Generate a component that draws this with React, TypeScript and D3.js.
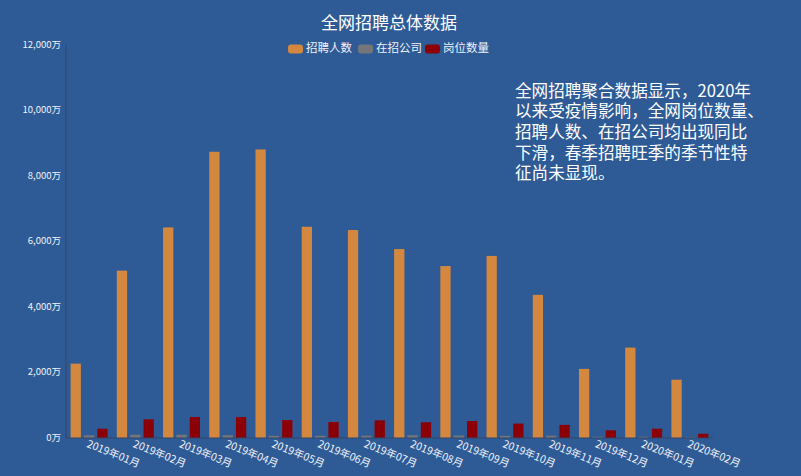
import { useRef, useEffect } from "react";
import * as d3 from "d3";

const months = [
  "2019年01月", "2019年02月", "2019年03月", "2019年04月", "2019年05月", "2019年06月", "2019年07月",
  "2019年08月", "2019年09月", "2019年10月", "2019年11月", "2019年12月", "2020年01月", "2020年02月",
];
const seriesNames = ["招聘人数", "在招公司", "岗位数量"];
const seriesColors = ["#d4883f", "#74767a", "#8b0006"];
const recruits = [2270, 5110, 6430, 8740, 8810, 6450, 6350, 5770, 5250, 5560, 4370, 2110, 2760, 1780];
const companies = [82, 100, 100, 85, 65, 65, 70, 85, 75, 65, 70, 35, 35, 25];
const positions = [285, 570, 640, 640, 550, 490, 540, 480, 520, 440, 400, 235, 285, 130];
const yTicks = [0, 2000, 4000, 6000, 8000, 10000, 12000];
const noteLines = [
  "全网招聘聚合数据显示，2020年",
  "以来受疫情影响，全网岗位数量、",
  "招聘人数、在招公司均出现同比",
  "下滑，春季招聘旺季的季节性特",
  "征尚未显现。",
];

const W = 801;
const H = 476;
const FONT = "'Microsoft YaHei', 'Noto Sans CJK SC', sans-serif";

export default function App() {
  const svgRef = useRef<SVGSVGElement>(null);

  useEffect(() => {
    if (!svgRef.current) return;
    const svg = d3.select(svgRef.current);
    svg.selectAll("*").remove();

    const margin = { top: 45, right: 88, bottom: 38, left: 66 };
    const series = [recruits, companies, positions];

    svg.append("rect").attr("width", W).attr("height", H).attr("fill", "#2e5b96");

    const x = d3.scaleBand().domain(months).range([margin.left, W - margin.right]).paddingInner(0.2).paddingOuter(0.1);
    const band = d3.scaleBand().domain(months).range([margin.left, W - margin.right]);
    const inner = d3.scaleBand().domain(seriesNames).range([0, x.bandwidth()]).paddingInner(0.23);
    const y = d3.scaleLinear().domain([0, 12000]).range([H - margin.bottom, margin.top]);

    // bars
    const g = svg.append("g");
    series.forEach((vals, si) => {
      g.selectAll(null)
        .data(vals)
        .enter()
        .append("rect")
        .attr("x", (_, i) => (x(months[i]) ?? 0) + (inner(seriesNames[si]) ?? 0))
        .attr("y", (d) => y(d))
        .attr("width", inner.bandwidth())
        .attr("height", (d) => y(0) - y(d))
        .attr("fill", seriesColors[si]);
    });

    // y axis
    svg.append("line")
      .attr("x1", margin.left).attr("x2", margin.left)
      .attr("y1", y(12000)).attr("y2", y(0))
      .attr("stroke", "#33476a").attr("stroke-width", 1);
    svg.append("g").selectAll("text").data(yTicks).enter().append("text")
      .attr("x", margin.left - 5)
      .attr("y", (d) => y(d))
      .attr("text-anchor", "end")
      .attr("dominant-baseline", "middle")
      .attr("font-size", 9.5)
      .attr("font-family", FONT)
      .attr("fill", "#eef2f8")
      .text((d) => `${d3.format(",")(d)}万`);

    // x axis
    svg.append("line")
      .attr("x1", margin.left).attr("x2", W - margin.right)
      .attr("y1", y(0)).attr("y2", y(0))
      .attr("stroke", "#33476a").attr("stroke-width", 1);
    svg.append("g").selectAll("text").data(months).enter().append("text")
      .attr("transform", (d) => `translate(${(band(d) ?? 0) + band.bandwidth() / 2 - 2},${y(0) + 6}) rotate(22)`)
      .attr("text-anchor", "start")
      .attr("dominant-baseline", "middle")
      .attr("font-size", 10.5)
      .attr("font-family", FONT)
      .attr("fill", "#eef2f8")
      .text((d) => d);

    // title
    svg.append("text")
      .attr("x", 389).attr("y", 29)
      .attr("text-anchor", "middle")
      .attr("font-size", 17)
      .attr("font-family", FONT)
      .attr("fill", "#ffffff")
      .text("全网招聘总体数据");

    // legend
    const legendX = [288, 358, 425];
    seriesNames.forEach((name, i) => {
      svg.append("rect")
        .attr("x", legendX[i]).attr("y", 44.5)
        .attr("width", 15).attr("height", 9).attr("rx", 3)
        .attr("fill", seriesColors[i]);
      svg.append("text")
        .attr("x", legendX[i] + 18).attr("y", 49)
        .attr("dominant-baseline", "middle")
        .attr("font-size", 11.5)
        .attr("font-family", FONT)
        .attr("fill", "#eef2f8")
        .text(name);
    });

    // note
    svg.append("g").selectAll("text").data(noteLines).enter().append("text")
      .attr("x", 515)
      .attr("y", (_, i) => 92 + i * 20.7)
      .attr("dominant-baseline", "middle")
      .attr("font-size", 16.6)
      .attr("font-family", FONT)
      .attr("fill", "#ffffff")
      .text((d) => d);
  }, []);

  return <svg ref={svgRef} width={W} height={H} style={{ position: "absolute", left: 0, top: 0 }} />;
}
